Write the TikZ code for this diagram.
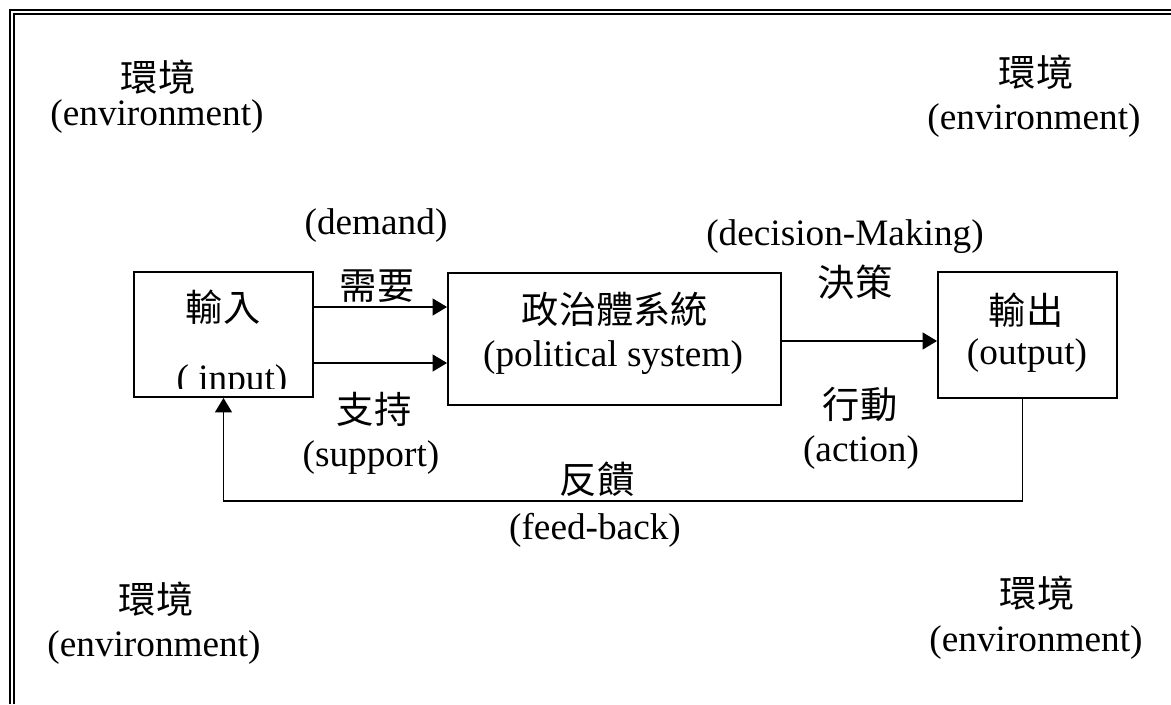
\documentclass[tikz,border=0pt]{standalone}
\usepackage{fontspec}
\setmainfont{Liberation Serif}
\newfontfamily\zhfont{Noto Sans CJK TC}
\usetikzlibrary{arrows.meta}

\tikzset{
  txt/.style={inner sep=0pt, font=\fontsize{26.5}{30}\selectfont},
  zh/.style={txt, font=\fontsize{26.5}{30}\selectfont\zhfont},
  sysbox/.style={draw, line width=1.3pt, inner sep=0pt},
  flow/.style={line width=1.3pt, -{Triangle[length=0.36cm, width=0.42cm]}},
}

\begin{document}
\begin{tikzpicture}[x=0.025cm, y=-0.025cm]
\useasboundingbox (0,0) rectangle (1171,704);

% double frame
\draw[line width=1.9pt] (10,704) -- (10,10) -- (1171,10);
\draw[line width=1pt] (14,704) -- (14,14) -- (1171,14);

% boxes
\node[sysbox, minimum width=4.475cm, minimum height=3.125cm] (inbox) at (223.5,334.5) {};
\node[sysbox, minimum width=8.325cm, minimum height=3.3cm] (polsys) at (614.5,339) {};
\node[sysbox, minimum width=4.475cm, minimum height=3.15cm] (outbox) at (1027.5,335) {};

% box texts
\node[zh] (intxt) at (223,307) {輸入};
\begin{scope}
\clip (134,272) rectangle (313,388);
\node[txt] (inen) at (232,382) {( input)};
\end{scope}
\node[zh] (poltxt) at (615,309) {政治體系統};
\node[txt] (polen) at (613,358) {(political system)};
\node[zh] (outtxt) at (1026,310) {輸出};
\node[txt] (outen) at (1027,356) {(output)};

% connectors
\coordinate (d1) at (313,307);
\coordinate (d2) at (313,363);
\draw[flow] (d1) -- (d1 -| polsys.west);
\draw[flow] (d2) -- (d2 -| polsys.west);
\coordinate (dm) at (781,341);
\draw[flow] (dm) -- (dm -| outbox.west);
\coordinate (fb) at (600,501);
\draw[flow] ([xshift=-0.125cm]outbox.south) |- (fb) -| (inbox.south);

% connector labels
\node[txt] (demand) at (376,226) {(demand)};
\node[zh] (demandzh) at (377,286) {需要};
\node[zh] (supportzh) at (374,409) {支持};
\node[txt] (support) at (371,458) {(support)};
\node[txt] (decision) at (845,237) {(decision-Making)};
\node[zh] (decisionzh) at (855,282) {決策};
\node[zh] (actionzh) at (860,404) {行動};
\node[txt] (action) at (861,453) {(action)};
\node[zh] (feedzh) at (597,479) {反饋};
\node[txt] (feed) at (595,530) {(feed-back)};

% environment corners
\node[zh] (envtl) at (158,77) {環境};
\node[txt] (envtlen) at (157,117) {(environment)};
\node[zh] (envtr) at (1036,72) {環境};
\node[txt] (envtren) at (1034,121) {(environment)};
\node[zh] (envbl) at (156,599) {環境};
\node[txt] (envblen) at (154,648) {(environment)};
\node[zh] (envbr) at (1037,593) {環境};
\node[txt] (envbren) at (1036,643) {(environment)};
\end{tikzpicture}
\end{document}
